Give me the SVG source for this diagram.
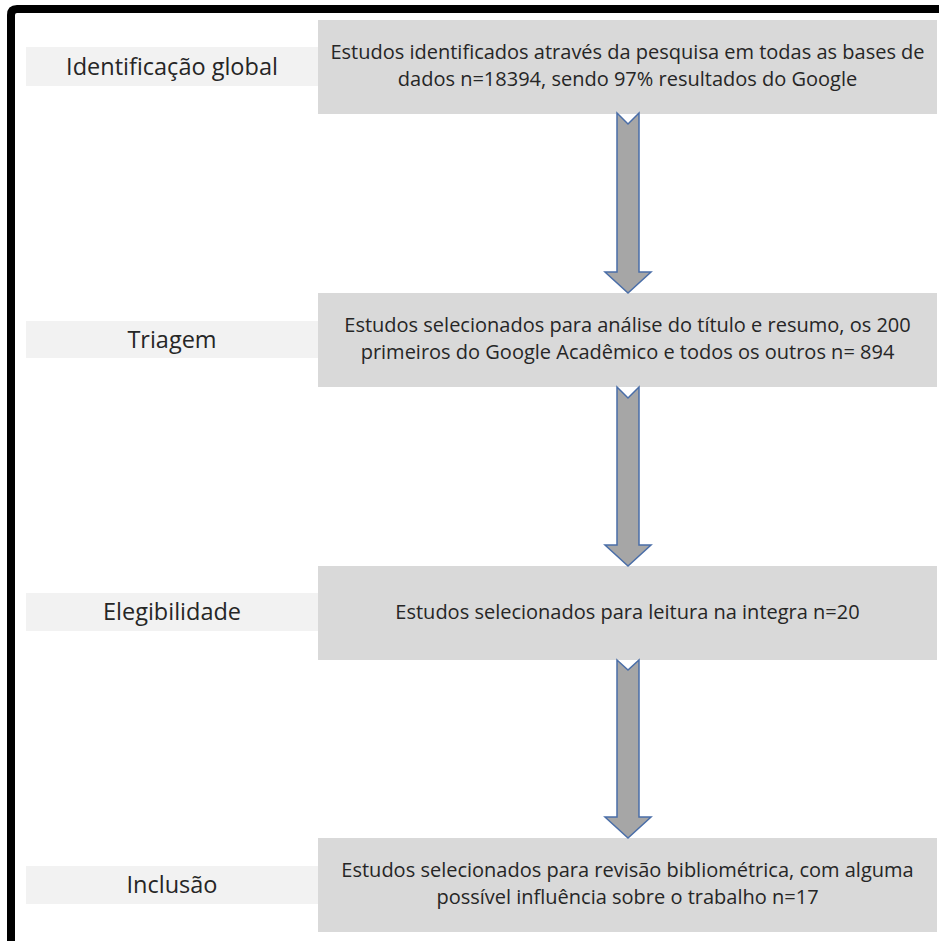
<svg xmlns="http://www.w3.org/2000/svg" width="939" height="941" viewBox="0 0 939 941">
<style>
.box{fill:#d9d9d9}
.lab{fill:#f2f2f2}
.bt{font-family:"Open Sans","Liberation Sans",sans-serif;font-size:20px;fill:#262626;text-anchor:middle}
.lt{font-family:"Open Sans","Liberation Sans",sans-serif;font-size:23.5px;fill:#262626;text-anchor:middle}
.arr{fill:#a6a6a6;stroke:#4a6ea8;stroke-width:1.5;stroke-linejoin:miter}
</style>
<rect width="939" height="941" fill="#ffffff"/>
<path d="M11,941 L11,15 Q11,9 17,9 L939,9" fill="none" stroke="#000" stroke-width="8"/>
<g id="label1"><rect class="lab" x="26" y="47" width="292" height="39"/><text class="lt" x="172" y="75">Identificação global</text></g>
<g id="label2"><rect class="lab" x="26" y="321" width="292" height="37"/><text class="lt" x="172" y="348">Triagem</text></g>
<g id="label3"><rect class="lab" x="26" y="593" width="292" height="38"/><text class="lt" x="172" y="620">Elegibilidade</text></g>
<g id="label4"><rect class="lab" x="26" y="866" width="292" height="38"/><text class="lt" x="172" y="893">Inclusão</text></g>
<g id="box1"><rect class="box" x="318" y="20" width="619" height="94"/><text class="bt" x="627.5" y="59">Estudos identificados através da pesquisa em todas as bases de</text><text class="bt" x="627.5" y="86">dados n=18394, sendo 97% resultados do Google</text></g>
<g id="box2"><rect class="box" x="318" y="293" width="619" height="94"/><text class="bt" x="627.5" y="332">Estudos selecionados para análise do título e resumo, os 200</text><text class="bt" x="627.5" y="359">primeiros do Google Acadêmico e todos os outros n= 894</text></g>
<g id="box3"><rect class="box" x="318" y="566" width="619" height="94"/><text class="bt" x="627.5" y="619">Estudos selecionados para leitura na integra n=20</text></g>
<g id="box4"><rect class="box" x="318" y="838" width="619" height="94"/><text class="bt" x="627.5" y="877">Estudos selecionados para revisão bibliométrica, com alguma</text><text class="bt" x="627.5" y="904">possível influência sobre o trabalho n=17</text></g>
<g id="connectors">
<path class="arr" d="M617,113 L628,124 L639,113 L639,272 L651,272 L628,293 L605,272 L617,272 Z"/>
<path class="arr" d="M617,387 L628,398 L639,387 L639,545 L651,545 L628,566 L605,545 L617,545 Z"/>
<path class="arr" d="M617,660 L628,670 L639,660 L639,817 L651,817 L628,838 L605,817 L617,817 Z"/>
</g>
</svg>
